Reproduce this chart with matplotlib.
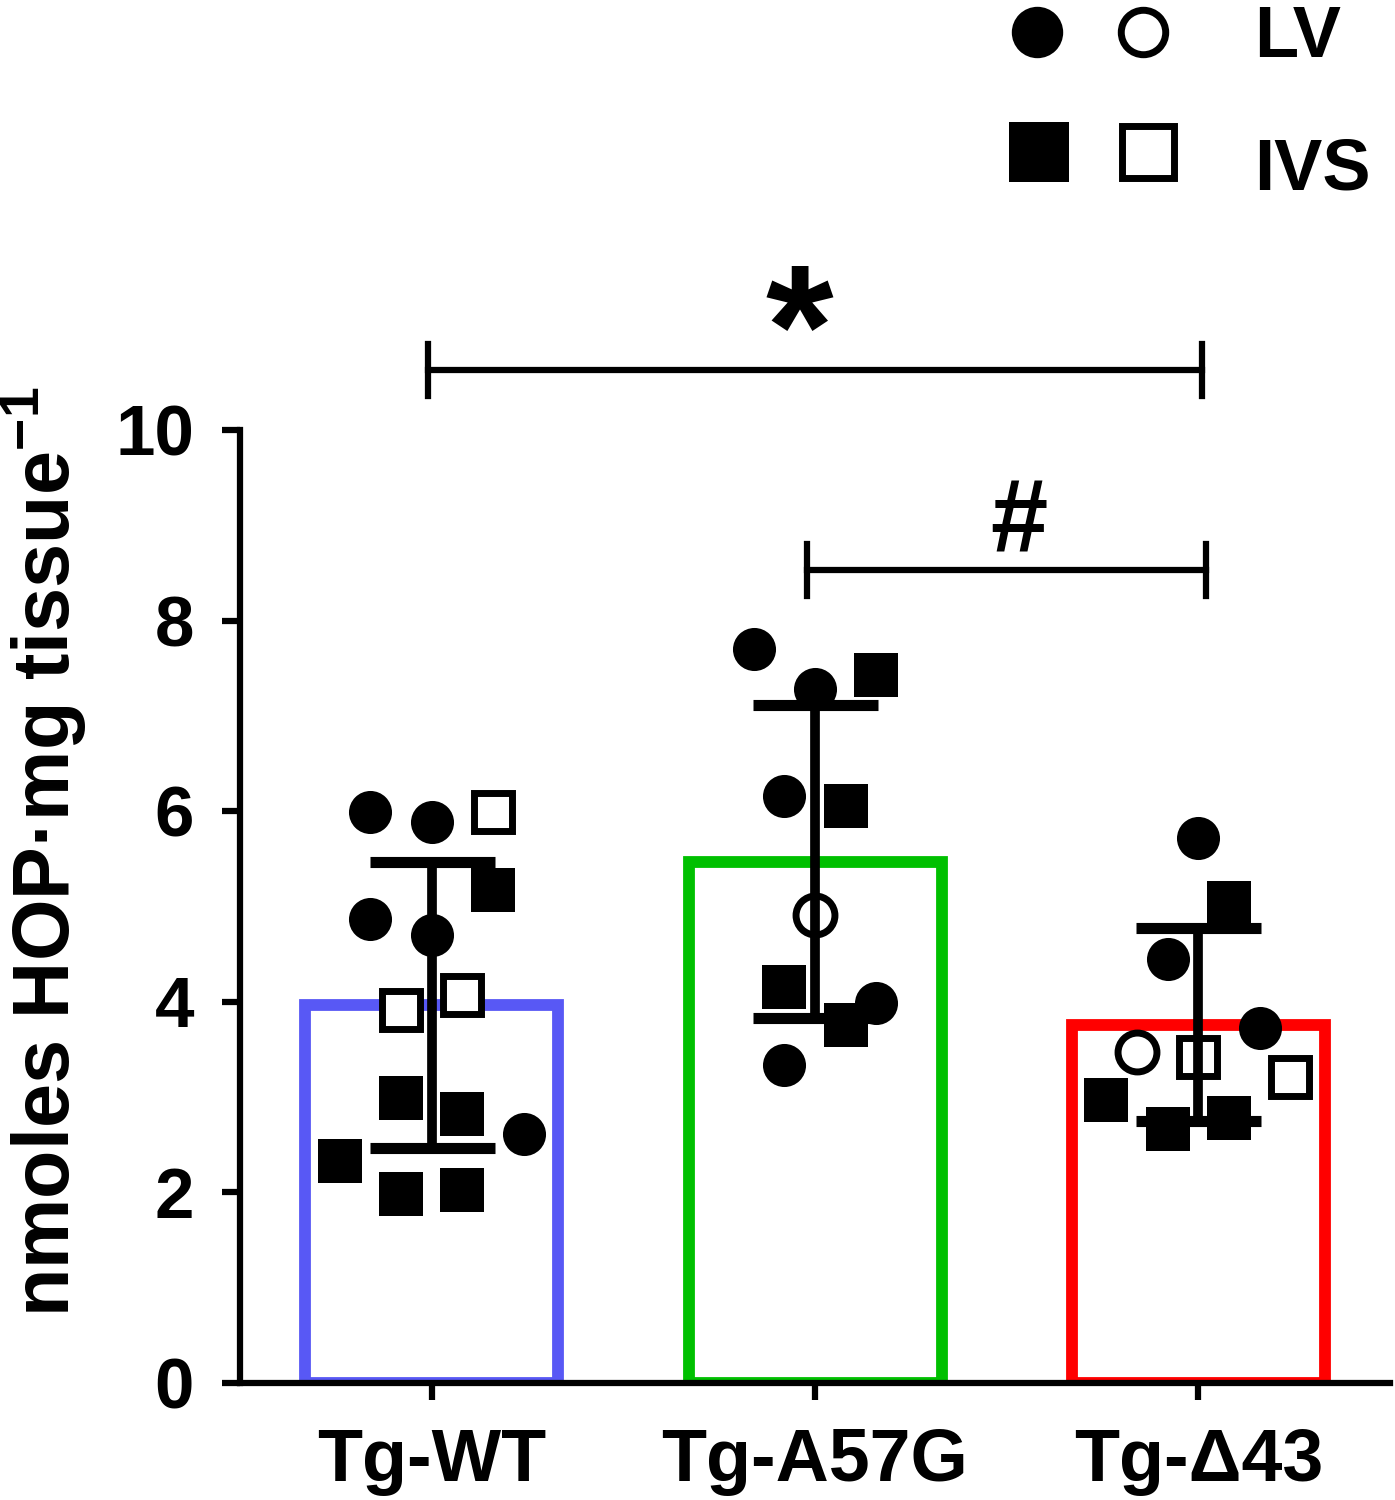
import matplotlib
matplotlib.use("Agg")

import matplotlib.pyplot as plt

plt.rcParams["font.family"] = ["Liberation Sans", "DejaVu Sans"]
plt.rcParams["font.weight"] = "bold"
plt.rcParams["mathtext.fontset"] = "custom"
plt.rcParams["mathtext.rm"] = "Liberation Sans:bold"
plt.rcParams["mathtext.bf"] = "Liberation Sans:bold"

# Groups and summary values
groups = ["Tg-WT", "Tg-A57G", "Tg-\u039443"]
means = [3.97, 5.47, 3.76]
sds = [1.50, 1.64, 1.01]
bar_colors = ["#5858f5", "#00c000", "#ff0000"]

# Individual points per group: jitter offset, value, marker, filled
wt_offsets = [-0.16, 0.0, 0.16, 0.16, -0.16, 0.0, -0.08, 0.08, -0.08, 0.08, 0.24, -0.24, -0.08, 0.08]
wt_values = [5.99, 5.89, 5.99, 5.17, 4.87, 4.70, 3.91, 4.07, 2.99, 2.82, 2.61, 2.33, 1.98, 2.03]
wt_markers = ["o", "o", "s", "s", "o", "o", "s", "s", "s", "s", "o", "s", "s", "s"]
wt_filled = [1, 1, 0, 1, 1, 1, 0, 0, 1, 1, 1, 1, 1, 1]

a57g_offsets = [-0.16, 0.0, 0.16, -0.08, 0.08, 0.0, -0.08, 0.16, 0.08, -0.08]
a57g_values = [7.70, 7.28, 7.43, 6.16, 6.05, 4.91, 4.16, 3.99, 3.76, 3.34]
a57g_markers = ["o", "o", "s", "o", "s", "o", "s", "o", "s", "o"]
a57g_filled = [1, 1, 1, 1, 1, 0, 1, 1, 1, 1]

d43_offsets = [0.0, 0.08, -0.08, 0.16, -0.16, 0.0, 0.24, -0.24, -0.08, 0.08]
d43_values = [5.72, 5.04, 4.45, 3.73, 3.47, 3.42, 3.21, 2.97, 2.67, 2.78]
d43_markers = ["o", "s", "o", "o", "o", "s", "s", "s", "s", "s"]
d43_filled = [1, 1, 1, 1, 0, 0, 0, 1, 1, 1]

points = [
    (wt_offsets, wt_values, wt_markers, wt_filled),
    (a57g_offsets, a57g_values, a57g_markers, a57g_filled),
    (d43_offsets, d43_values, d43_markers, d43_filled),
]

# Significance brackets: (x start, x end, height, label)
brackets = [(-0.01, 2.01, 10.63, "*"), (0.98, 2.02, 8.53, "#")]

fig = plt.figure(figsize=(13.95, 15), dpi=100)
ax = fig.add_axes([0.172, 0.078, 0.8245, 0.6353])

x = list(range(len(groups)))
ax.bar(x, means, width=0.66, facecolor="white", edgecolor=bar_colors,
       linewidth=8.5, zorder=1)

for gi, (offs, vals, marks, fills) in enumerate(points):
    for o, v, m, f in zip(offs, vals, marks, fills):
        if f:
            ax.plot(gi + o, v, marker=m, ms=31, color="black", mec="black",
                    mew=0, zorder=3, clip_on=False)
        else:
            ax.plot(gi + o, v, marker=m, ms=28, mfc="white", mec="black",
                    mew=5, zorder=3, clip_on=False)

ax.errorbar(x, means, yerr=sds, fmt="none", ecolor="black", elinewidth=7,
            capsize=45, capthick=8, zorder=4)

for x0, x1, h, lab in brackets:
    ax.plot([x0, x1], [h, h], color="black", lw=4.5, clip_on=False)
    for xe in (x0, x1):
        ax.plot([xe, xe], [h - 0.27, h + 0.27], color="black", lw=4.5,
                clip_on=False)
    if lab == "*":
        ax.text(0.958, h - 0.55, lab, ha="center", va="bottom",
                fontsize=125, fontweight="bold", clip_on=False)
    else:
        ax.text(1.532, h - 0.04, lab, ha="center", va="bottom",
                fontsize=74, fontweight="bold", clip_on=False)

ax.set_xlim(-0.5, 2.5)
ax.set_ylim(0, 10)
ax.set_yticks([0, 2, 4, 6, 8, 10])
ax.set_xticks(x)
ax.set_xticklabels(groups)
ax.tick_params(axis="y", length=13, width=4.5, labelsize=51, pad=20)
ax.tick_params(axis="x", length=12, width=4.5, labelsize=53, pad=20)
for lab in ax.get_xticklabels() + ax.get_yticklabels():
    lab.set_fontweight("bold")

ax.spines["top"].set_visible(False)
ax.spines["right"].set_visible(False)
ax.spines["left"].set_linewidth(4.5)
ax.spines["bottom"].set_linewidth(4.5)

ax.set_ylabel("nmoles HOP\u00b7mg tissue$^{\u22121}$", fontsize=57,
              fontweight="bold")
ax.yaxis.set_label_coords(-0.131, 0.557)

# Legend drawn in figure coordinates
W, H = 1395, 1500
def fx(px):
    return px / W
def fy(py):
    return 1 - py / H

fig.lines.append(plt.Line2D([fx(1037)], [fy(32)], marker="o", ms=37,
                            color="black", mew=0, transform=fig.transFigure))
fig.lines.append(plt.Line2D([fx(1143)], [fy(32)], marker="o", ms=32,
                            mfc="white", mec="black", mew=5,
                            transform=fig.transFigure))
fig.lines.append(plt.Line2D([fx(1039)], [fy(152)], marker="s", ms=43,
                            color="black", mew=0, transform=fig.transFigure))
fig.lines.append(plt.Line2D([fx(1148)], [fy(152)], marker="s", ms=38,
                            mfc="white", mec="black", mew=5,
                            transform=fig.transFigure))
fig.text(fx(1254), fy(57), "LV", fontsize=52, fontweight="bold", va="baseline")
fig.text(fx(1254), fy(189), "IVS", fontsize=52, fontweight="bold", va="baseline")

fig.savefig("out.png", dpi=100)
plt.close(fig)
